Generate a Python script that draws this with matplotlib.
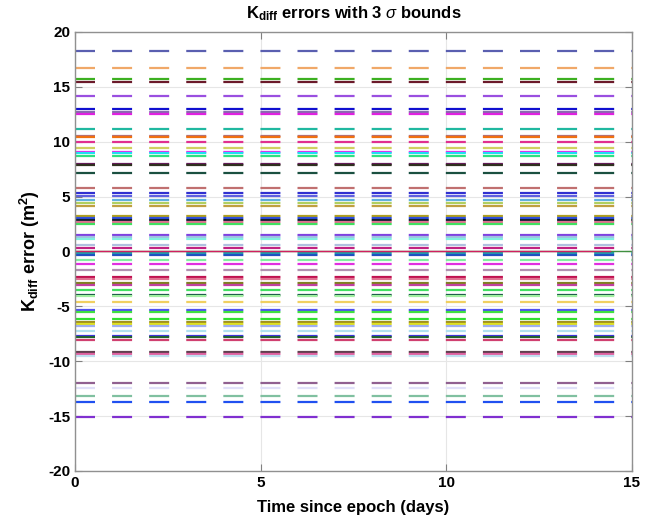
import matplotlib
matplotlib.use("Agg")
import matplotlib.pyplot as plt
import numpy as np

plt.rcParams['font.family'] = ['Liberation Sans', 'DejaVu Sans']
plt.rcParams['mathtext.fontset'] = 'custom'
plt.rcParams['mathtext.rm'] = 'Liberation Sans:bold'
plt.rcParams['mathtext.bf'] = 'Liberation Sans:bold'
plt.rcParams['mathtext.it'] = 'Liberation Sans:italic'
plt.rcParams['lines.scale_dashes'] = False
plt.rcParams['axes.unicode_minus'] = False

# time span of the run (days)
t_span = [0, 15]

# 3-sigma bound levels (m^2) and their colours
bound_levels = [18.3, 16.7, 15.74, 15.4, 14.2, 13.0, 12.7, 12.5, 11.2, 10.55,
                10.45, 9.97, 9.4, 9.06, 8.95, 8.66, 7.97, 7.85, 7.14, 5.74,
                5.29, 5.1, 4.71, 4.41, 4.1, 3.25, 3.04, 2.9, 2.73, 2.52,
                1.46, 1.35, 1.13, 0.61, 0.31, -0.15, -0.36, -0.82, -1.15, -1.73,
                -2.28, -2.49, -2.88, -3.03, -3.49, -3.95, -4.1, -4.56, -5.31, -5.47,
                -6.13, -6.38, -6.59, -6.83, -7.23, -7.66, -7.75, -8.05, -9.17, -9.32,
                -9.5, -12.0, -12.4, -13.2, -13.67, -15.04]
bound_colors = ['#5a5fb0', '#f0a868', '#3cb021', '#6b1a2a', '#9a4fe0', '#1010d0', '#8a6ab0', '#e020e0', '#20b8a0', '#b07080',
                '#f07010', '#e03090', '#d0d060', '#f020f0', '#20e0f0', '#30e080', '#6a1a60', '#303020', '#1a5040', '#c07070',
                '#3030d0', '#6060e0', '#60b0e0', '#b0d060', '#c0a040', '#b0a020', '#3050e0', '#102030', '#e07090', '#40e060',
                '#8040e0', '#a0c0e0', '#80f0e0', '#b0c0e0', '#c02080', '#20a0b0', '#2050c0', '#80f0a0', '#e030e0', '#b090b0',
                '#c01050', '#e07090', '#808020', '#c040a0', '#40e060', '#105040', '#a0f0a0', '#f0d060', '#5050f0', '#40e040',
                '#30e030', '#a09020', '#e0e020', '#a0b0f0', '#b0e0f0', '#4030f0', '#206030', '#d04070', '#604050', '#e060a0',
                '#c0e0f0', '#906090', '#e0e0f8', '#80c0a0', '#2050f0', '#8030d0']

# estimation errors (m^2)
err_green_t = [0, 15]
err_green = [0, 0]
err_red_t = [0, 14.4]
err_red = [0, 0]

fig = plt.figure(figsize=(6.59, 5.21), dpi=100)
ax = fig.add_axes([0.1138, 0.096, 0.8452, 0.8426])

for lvl, c in zip(bound_levels, bound_colors):
    ax.plot(t_span, [lvl, lvl], color=c, linewidth=1.6,
            linestyle=(0, (14.4, 12.3)), solid_capstyle='butt')

ax.plot(err_green_t, err_green, color='#409040', linewidth=1.0)
ax.plot(err_red_t, err_red, color='#d02060', linewidth=1.0)

ax.set_xlim(0, 15)
ax.set_ylim(-20, 20)
ax.set_xticks([0, 5, 10, 15])
ax.set_yticks(np.arange(-20, 21, 5))
ax.grid(True, color='#e6e6e6', linewidth=0.8)
ax.set_axisbelow(True)
ax.tick_params(direction='in', length=5, color='#808080', labelsize=11, top=True, right=True)
for lab in ax.get_xticklabels() + ax.get_yticklabels():
    lab.set_fontweight('bold')
for s in ax.spines.values():
    s.set_color('#909090')
    s.set_linewidth(1.0)

ax.set_title(r'K$_{\mathbf{diff}}$ errors with 3 $\sigma$ bounds', fontsize=12, fontweight='bold', pad=10)
ax.set_xlabel('Time since epoch (days)', fontsize=12, fontweight='bold', labelpad=7)
ax.set_ylabel(r'K$_{\mathbf{diff}}$ error (m$^{\mathbf{2}}$)', fontsize=13, fontweight='bold', labelpad=4)

fig.savefig('out.png', dpi=100)
